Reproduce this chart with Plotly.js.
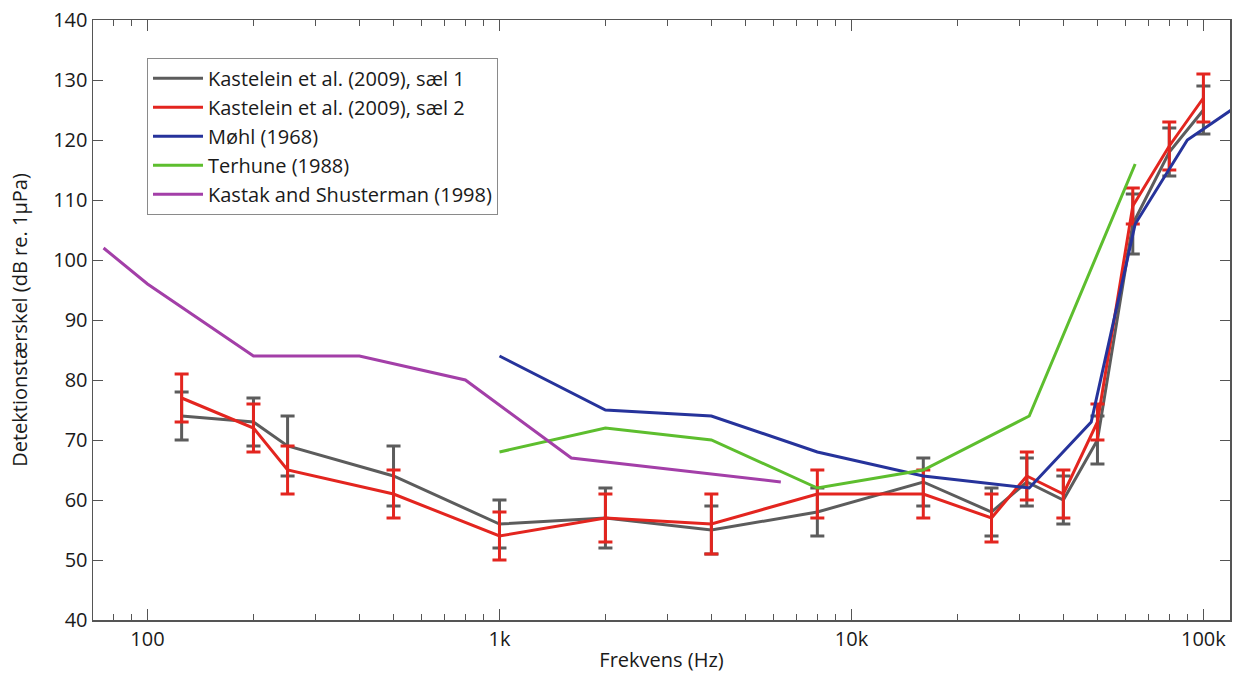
<!DOCTYPE html>
<html>
<head>
<meta charset="utf-8">
<script src="https://cdn.plot.ly/plotly-3.0.1.min.js"></script>
<style>html,body{margin:0;padding:0;background:#fff;}#chart{width:1233px;height:673px;}</style>
</head>
<body>
<div id="chart"></div>
<script>
// Kastelein et al. (2009) frequencies (Hz)
const kastFreq = [125, 200, 250, 500, 1000, 2000, 4000, 8000, 16000, 25000, 31500, 40000, 50000, 63000, 80000, 100000];
// seal 1 (grey)
const seal1 = [74, 73, 69, 64, 56, 57, 55, 58, 63, 58, 63, 60, 70, 106, 118, 125];
const seal1Err = [4, 4, 5, 5, 4, 5, 4, 4, 4, 4, 4, 4, 4, 5, 4, 4];
// seal 2 (red)
const seal2 = [77, 72, 65, 61, 54, 57, 56, 61, 61, 57, 64, 61, 73, 109, 119, 127];
const seal2Err = [4, 4, 4, 4, 4, 4, 5, 4, 4, 4, 4, 4, 3, 3, 4, 4];
// Møhl (1968)
const mohlFreq = [1000, 2000, 4000, 8000, 16000, 32000, 48000, 64000, 90000, 120000];
const mohl = [84, 75, 74, 68, 64, 62, 73, 106, 120, 125];
// Terhune (1988)
const terhFreq = [1000, 2000, 4000, 8000, 16000, 32000, 64000];
const terh = [68, 72, 70, 62, 65, 74, 116];
// Kastak and Shusterman (1998)
const ksFreq = [75, 100, 200, 400, 800, 1600, 6300];
const ks = [102, 96, 84, 84, 80, 67, 63];

const names = ["Kastelein et al. (2009), sæl 1", "Kastelein et al. (2009), sæl 2", "Møhl (1968)", "Terhune (1988)", "Kastak and Shusterman (1998)"];
const colors = ["#5c5c5c", "#e3251f", "#26339b", "#5dbe2e", "#a33fa8"];

const majorTicks = [100, 1000, 10000, 100000];
const majorLabels = ["100", "1k", "10k", "100k"];
const minorTicks = [80, 90, 200, 300, 400, 500, 600, 700, 800, 900, 2000, 3000, 4000, 5000, 6000, 7000, 8000, 9000, 20000, 30000, 40000, 50000, 60000, 70000, 80000, 90000];

const FONT = "Open Sans, sans-serif";

const traces = [
  {x: kastFreq, y: seal1, name: names[0], mode: "lines", type: "scatter",
   line: {color: colors[0], width: 3},
   error_y: {type: "data", array: seal1Err, visible: true, color: colors[0], thickness: 3, width: 7}},
  {x: kastFreq, y: seal2, name: names[1], mode: "lines", type: "scatter",
   line: {color: colors[1], width: 3},
   error_y: {type: "data", array: seal2Err, visible: true, color: colors[1], thickness: 3, width: 7}},
  {x: mohlFreq, y: mohl, name: names[2], mode: "lines", type: "scatter", line: {color: colors[2], width: 3}},
  {x: terhFreq, y: terh, name: names[3], mode: "lines", type: "scatter", line: {color: colors[3], width: 3}},
  {x: ksFreq, y: ks, name: names[4], mode: "lines", type: "scatter", line: {color: colors[4], width: 3}}
];

const layout = {
  width: 1233, height: 673,
  margin: {l: 93, r: 3, t: 20, b: 53},
  paper_bgcolor: "#fff", plot_bgcolor: "#fff",
  font: {family: FONT, size: 20, color: "#1a1a1a"},
  showlegend: true,
  legend: {x: 0.0475, y: 0.937, xanchor: "left", yanchor: "top",
           bordercolor: "#8a8a8a", borderwidth: 1, bgcolor: "#fff", itemwidth: 50,
           font: {family: FONT, size: 20, color: "#1a1a1a"}, tracegroupgap: 0},
  xaxis: {
    type: "log", range: [Math.log10(70), Math.log10(119000)],
    tickmode: "array", tickvals: majorTicks, ticktext: majorLabels,
    ticks: "inside", ticklen: 11, tickwidth: 1, tickcolor: "#555",
    showline: true, linecolor: "#555", linewidth: 1.5, mirror: "ticks",
    showgrid: false, zeroline: false,
    minor: {tickmode: "array", tickvals: minorTicks, ticks: "inside", ticklen: 6, tickwidth: 1, tickcolor: "#555", showgrid: false},
    tickfont: {family: FONT, size: 20, color: "#1a1a1a"},
    title: {text: "Frekvens (Hz)", font: {family: FONT, size: 20, color: "#1a1a1a"}, standoff: 9}
  },
  yaxis: {
    range: [40, 140], dtick: 10, tick0: 40,
    ticks: "inside", ticklen: 10, tickwidth: 1, tickcolor: "#555",
    showline: true, linecolor: "#555", linewidth: 1.5, mirror: "ticks",
    showgrid: false, zeroline: false,
    tickfont: {family: FONT, size: 20, color: "#1a1a1a"},
    title: {text: "Detektionstærskel (dB re. 1µPa)", font: {family: FONT, size: 20, color: "#1a1a1a"}, standoff: 20}
  }
};

Plotly.newPlot("chart", traces, layout, {displayModeBar: false, staticPlot: true});
</script>
</body>
</html>
